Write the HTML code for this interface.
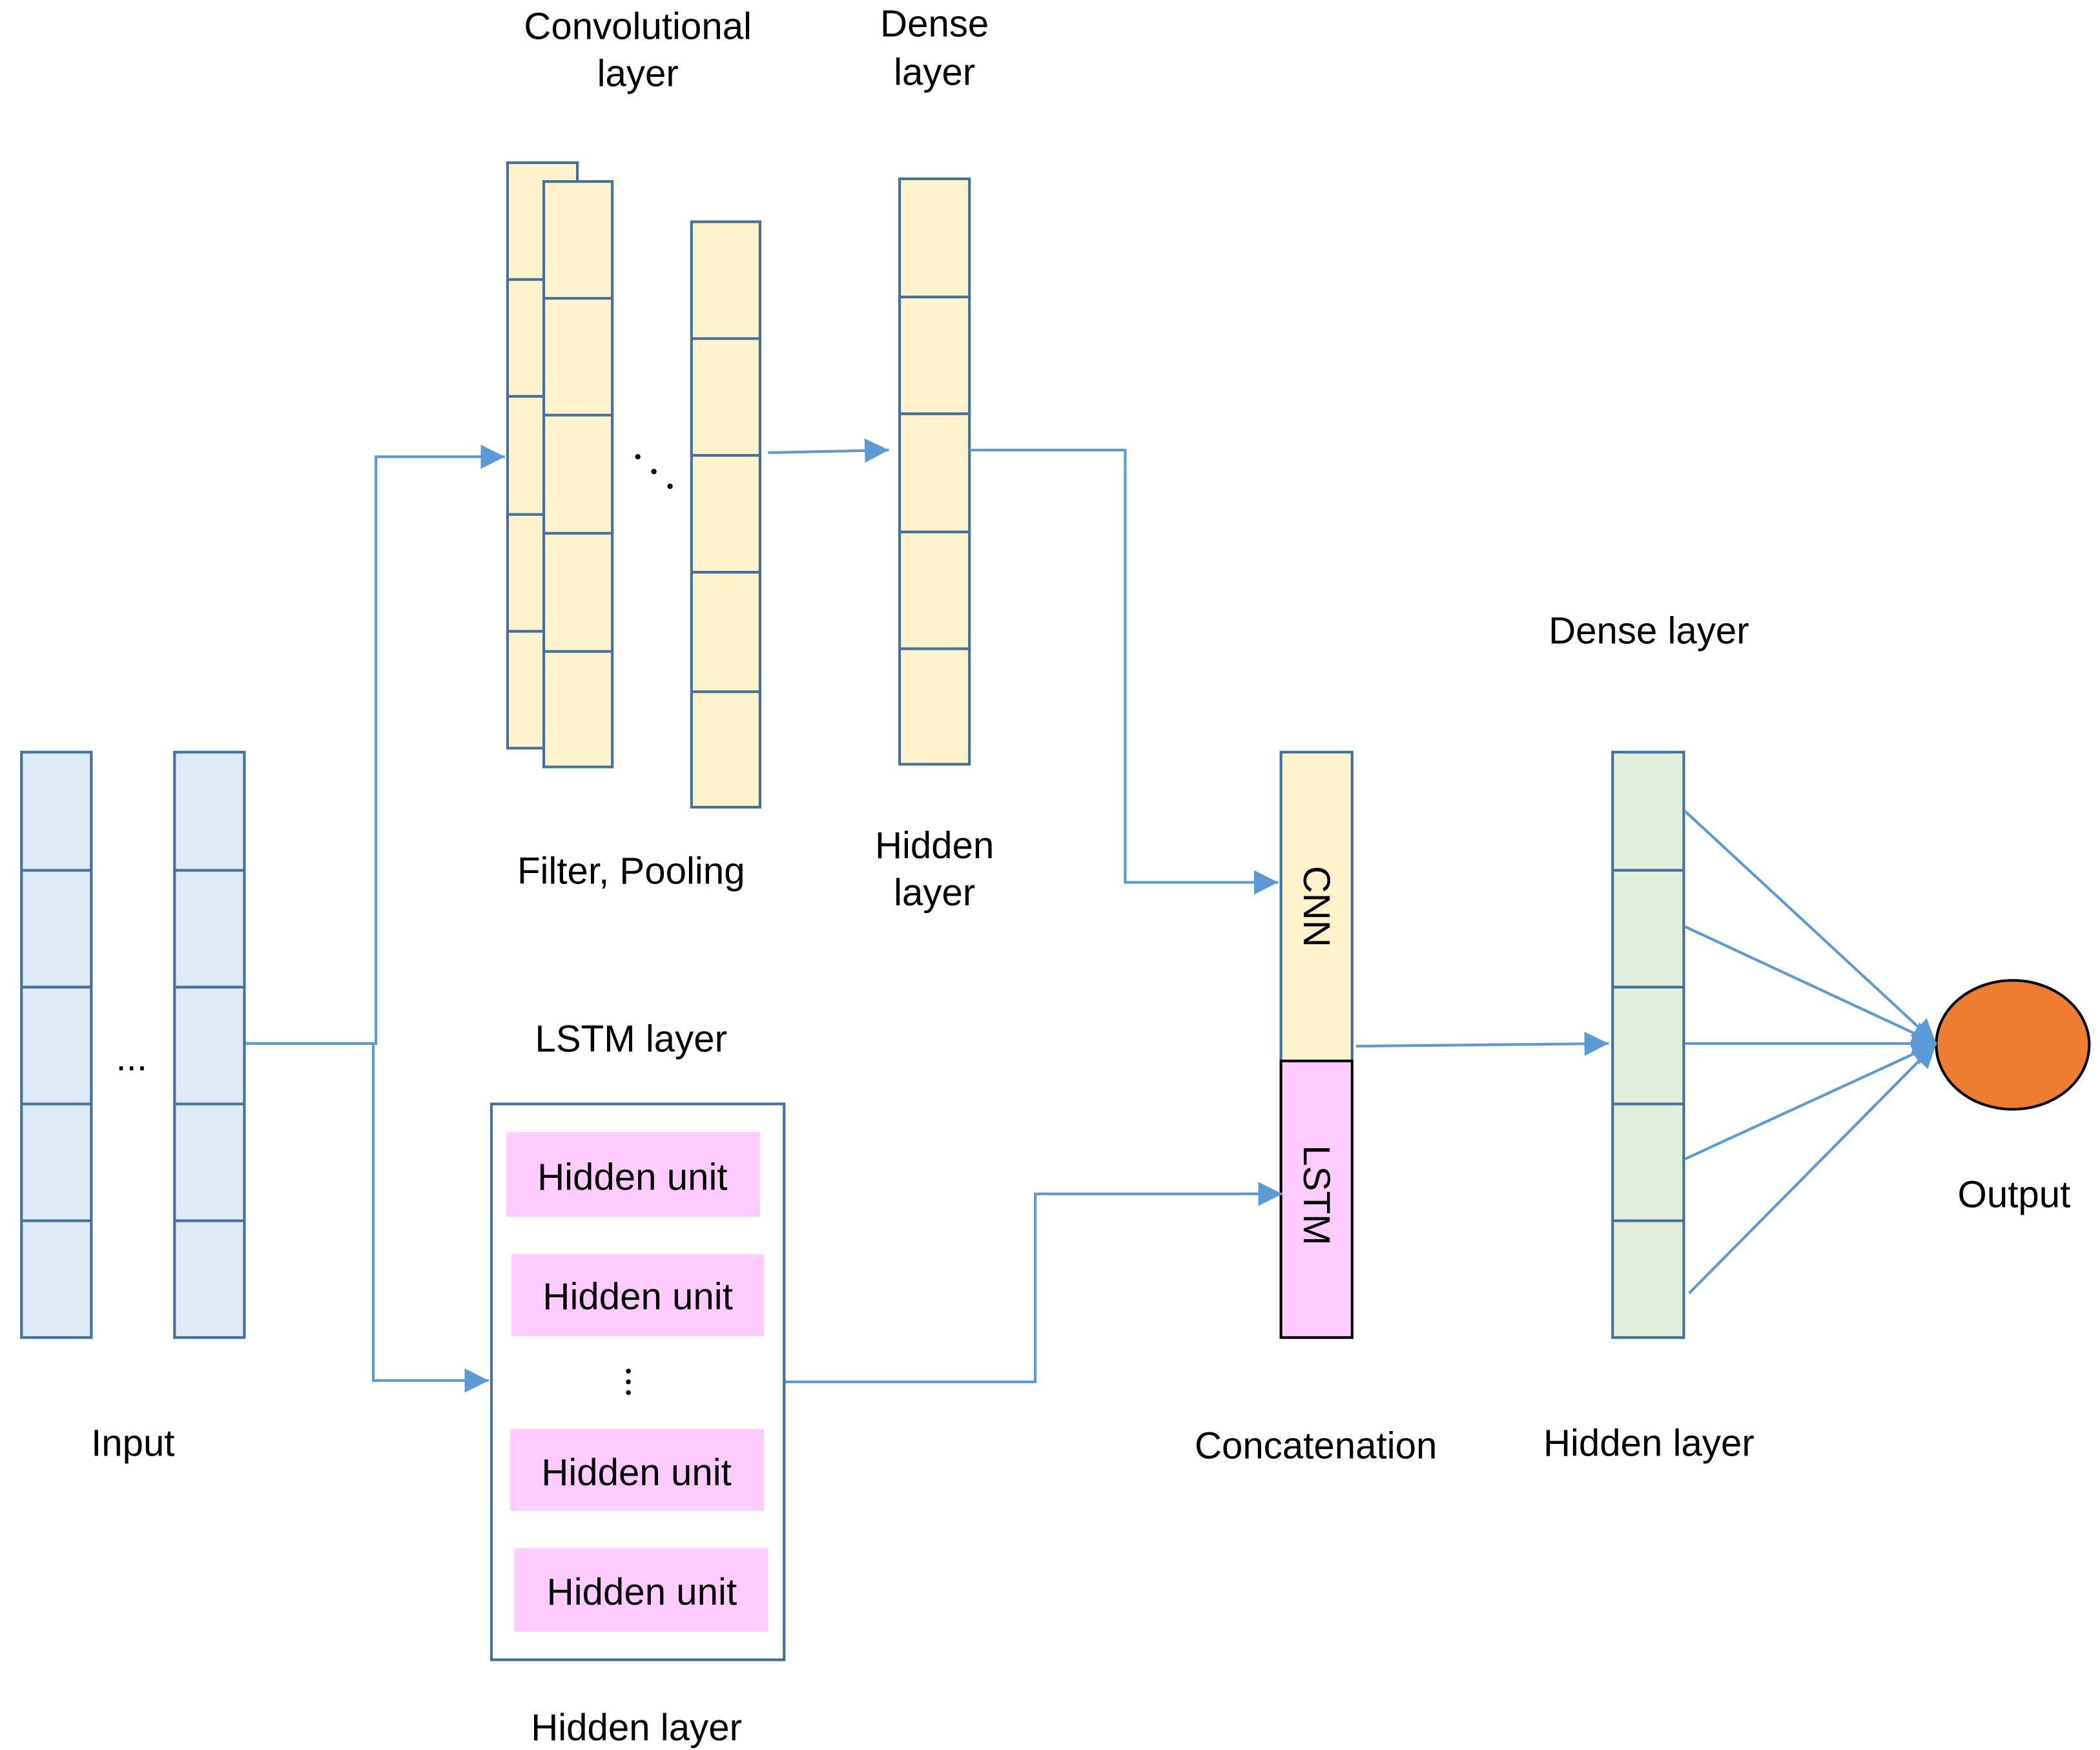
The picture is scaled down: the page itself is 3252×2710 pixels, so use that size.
<!DOCTYPE html>
<html><head><style>html,body{margin:0;padding:0;background:#fff}svg{display:block}</style></head>
<body>
<svg width="3252" height="2710" viewBox="0 0 1564 1303" xmlns="http://www.w3.org/2000/svg" font-family="Liberation Sans, sans-serif" font-size="28">
<defs>
<marker id="a" markerWidth="10" markerHeight="10" refX="9" refY="5" orient="auto" markerUnits="userSpaceOnUse"><path d="M0,0 L18,5 L0,10z" fill="#5b9bd5" transform="scale(0.5,1)"/></marker>
<marker id="b" markerWidth="20" markerHeight="18" refX="18" refY="9" orient="auto" markerUnits="userSpaceOnUse"><path d="M0,0 L18,9 L0,18z" fill="#5b9bd5"/></marker>
</defs>
<g stroke="#41719c" stroke-width="2">
<!-- input columns -->
<g fill="#deebf7">
<rect x="16" y="560" width="52" height="436"/><line x1="16" y1="648" x2="68" y2="648"/><line x1="16" y1="735" x2="68" y2="735"/><line x1="16" y1="822" x2="68" y2="822"/><line x1="16" y1="909" x2="68" y2="909"/>
<rect x="130" y="560" width="52" height="436"/><line x1="130" y1="648" x2="182" y2="648"/><line x1="130" y1="735" x2="182" y2="735"/><line x1="130" y1="822" x2="182" y2="822"/><line x1="130" y1="909" x2="182" y2="909"/>
</g>
<g fill="#fff2cc">
<rect x="378" y="121" width="52" height="436"/><line x1="378" y1="208" x2="430" y2="208"/><line x1="378" y1="295" x2="430" y2="295"/><line x1="378" y1="383" x2="430" y2="383"/><line x1="378" y1="470" x2="430" y2="470"/>
<rect x="405" y="135" width="51" height="436"/><line x1="405" y1="222" x2="456" y2="222"/><line x1="405" y1="309" x2="456" y2="309"/><line x1="405" y1="397" x2="456" y2="397"/><line x1="405" y1="485" x2="456" y2="485"/>
<rect x="515" y="165" width="51" height="436"/><line x1="515" y1="252" x2="566" y2="252"/><line x1="515" y1="339" x2="566" y2="339"/><line x1="515" y1="426" x2="566" y2="426"/><line x1="515" y1="515" x2="566" y2="515"/>
<rect x="670" y="133" width="52" height="436"/><line x1="670" y1="221" x2="722" y2="221"/><line x1="670" y1="308" x2="722" y2="308"/><line x1="670" y1="396" x2="722" y2="396"/><line x1="670" y1="483" x2="722" y2="483"/>
<rect x="954" y="560" width="53" height="230"/>
</g>
<rect x="954" y="790" width="53" height="206" fill="#ffccff" stroke="#000"/>
<g fill="#e2efda">
<rect x="1201" y="560" width="53" height="436"/><line x1="1201" y1="648" x2="1254" y2="648"/><line x1="1201" y1="735" x2="1254" y2="735"/><line x1="1201" y1="822" x2="1254" y2="822"/><line x1="1201" y1="909" x2="1254" y2="909"/>
</g>
<rect x="366" y="822" width="218" height="414" fill="#fff"/>
</g>
<g fill="#ffccff">
<rect x="377" y="843" width="189" height="63"/>
<rect x="381" y="934" width="188" height="61"/>
<rect x="380" y="1064" width="189" height="61"/>
<rect x="383" y="1153" width="189" height="62"/>
</g>
<ellipse cx="1499" cy="778" rx="57" ry="48" fill="#ed7d31" stroke="#000" stroke-width="2"/>
<!-- connectors -->
<g stroke="#5b9bd5" stroke-width="2" fill="none">
<polyline points="183,777 280,777 280,340 376,340" marker-end="url(#b)"/>
<polyline points="183,777 278,777 278,1028 364,1028" marker-end="url(#b)"/>
<line x1="572" y1="337" x2="662" y2="335" marker-end="url(#b)"/>
<polyline points="722,335 838,335 838,657 952,657" marker-end="url(#b)"/>
<polyline points="585,1029 771,1029 771,889 955,889" marker-end="url(#b)"/>
<line x1="1010" y1="779" x2="1198" y2="777" marker-end="url(#b)"/>
<line x1="1255" y1="604" x2="1442" y2="777" marker-end="url(#b)"/>
<line x1="1255" y1="690" x2="1442" y2="777" marker-end="url(#b)"/>
<line x1="1255" y1="777" x2="1442" y2="777" marker-end="url(#b)"/>
<line x1="1255" y1="863" x2="1442" y2="777" marker-end="url(#b)"/>
<line x1="1258" y1="963" x2="1442" y2="777" marker-end="url(#b)"/>
</g>
<g fill="#000">
<circle cx="475" cy="340" r="2"/><circle cx="487" cy="351" r="2"/><circle cx="499" cy="362" r="2"/>
<circle cx="468" cy="1021" r="1.8"/><circle cx="468" cy="1029" r="1.8"/><circle cx="468" cy="1037" r="1.8"/>
</g>
<g fill="#000" text-anchor="middle">
<text x="98" y="797">...</text>
<text x="475" y="29">Convolutional</text>
<text x="475" y="64">layer</text>
<text x="696" y="27">Dense</text>
<text x="696" y="63">layer</text>
<text x="470" y="658">Filter, Pooling</text>
<text x="696" y="639">Hidden</text>
<text x="696" y="674">layer</text>
<text x="470" y="783">LSTM layer</text>
<text x="471" y="886">Hidden unit</text>
<text x="475" y="975">Hidden unit</text>
<text x="474" y="1106">Hidden unit</text>
<text x="478" y="1195">Hidden unit</text>
<text x="474" y="1296">Hidden layer</text>
<text x="99" y="1084">Input</text>
<text x="980" y="1086">Concatenation</text>
<text x="1228" y="479">Dense layer</text>
<text x="1228" y="1084">Hidden layer</text>
<text x="1500" y="899">Output</text>
<text transform="translate(971,675) rotate(90)">CNN</text>
<text transform="translate(971,890) rotate(90)">LSTM</text>
</g>
</svg>
</body></html>
